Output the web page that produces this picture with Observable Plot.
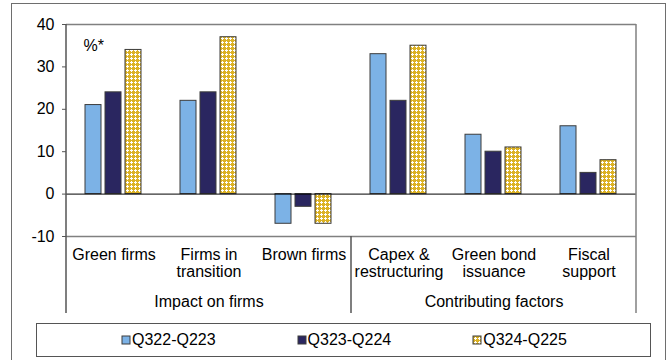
<!DOCTYPE html>
<html><head><meta charset="utf-8">
<script src="https://cdn.jsdelivr.net/npm/d3@7"></script>
<script src="https://cdn.jsdelivr.net/npm/@observablehq/plot@0.6"></script>
<style>
html,body{margin:0;padding:0;background:#fff;}
body{position:relative;width:667px;height:360px;overflow:hidden;font-family:"Liberation Sans",Arial,sans-serif;}
#outer{position:absolute;left:11px;top:3px;width:653px;height:400px;border:1px solid #6e6e6e;border-bottom:none;background:transparent;z-index:5;pointer-events:none;box-sizing:content-box;}
#chart{position:absolute;left:0;top:0;z-index:1;}
#legend{position:absolute;left:36px;top:323px;width:613px;height:32px;border:1px solid #555;display:flex;align-items:center;padding-left:0;box-sizing:content-box;z-index:2;background:#fff;}
#legend .lg-swatches, #legend .lg-swatches-wrap{margin:0 !important;padding:0 0 0 85px !important;display:flex !important;align-items:center !important;min-height:0 !important;font-family:"Liberation Sans",Arial,sans-serif !important;font-size:16px !important;color:#000 !important;flex-wrap:nowrap !important;}
#legend .lg-swatch{margin-right:82px !important;display:inline-flex !important;align-items:center !important;}
#legend .lg-swatch > svg{margin-right:2px !important;overflow:visible !important;}
#legend .lg-swatch rect{stroke:#3c3c3c;stroke-width:1px;}
</style>
</head><body>
<svg width="0" height="0" style="position:absolute;left:0;top:0">
  <defs>
    <pattern id="gold-check" width="4" height="4" patternUnits="userSpaceOnUse">
      <rect x="0" y="0" width="4" height="4" fill="#dcb224"></rect>
      <rect x="2" y="1" width="1" height="3" fill="#ffffff"></rect>
      <rect x="1" y="2" width="3" height="1" fill="#ffffff"></rect>
    </pattern>
  </defs>
</svg>
<div id="chart"></div>
<div id="legend"></div>
<div id="outer"></div>
<script>
const categories = ["Green firms", "Firms in\ntransition", "Brown firms", "Capex &\nrestructuring", "Green bond\nissuance", "Fiscal\nsupport"];
const series = ["Q322-Q223", "Q323-Q224", "Q324-Q225"];
const q322_q223 = [21, 22, -7, 33, 14, 16];
const q323_q224 = [24, 24, -3, 22, 10, 5];
const q324_q225 = [34, 37, -7, 35, 11, 8];
const groupLabels = ["Impact on firms", "Contributing factors"];
const groupCenters = ["Firms in\ntransition", "Green bond\nissuance"];
const unitLabel = "%*";
const yTicks = [-10, 0, 10, 20, 30, 40];
const colors = ["#7cb2e6", "#2a2660", "url(#gold-check)"];

const seriesValues = [q322_q223, q323_q224, q324_q225];
const rows = [];
categories.forEach((c, i) => series.forEach((s, j) => rows.push({category: c, series: s, value: seriesValues[j][i]})));
const groupRows = groupLabels.map((label, i) => ({fx: groupCenters[i], label}));
const unitRows = [{fx: categories[0], label: unitLabel}];

const FONT = '"Liberation Sans", Arial, sans-serif';
const chart = Plot.plot({
  width: 667, height: 320,
  marginLeft: 65, marginRight: 30, marginTop: 24, marginBottom: 84,
  style: {fontFamily: FONT, fontSize: "16px", color: "#000", background: "transparent", overflow: "visible"},
  fx: {domain: categories, padding: 0},
  x: {domain: series, paddingInner: 0.176, paddingOuter: 0.858, axis: null},
  y: {domain: [-10, 40]},
  color: {domain: series, range: colors},
  marks: [
    Plot.ruleY([40, -10], {stroke: "#808080", strokeWidth: 1.5}),
    Plot.axisY({ticks: yTicks, tickSize: 4, tickPadding: 8, tickFormat: d => String(d), fontSize: 16, label: null, stroke: "#555", fill: "#000"}),
    Plot.axisFx({anchor: "bottom", tickSize: 0, tickPadding: 11, fontSize: 16, label: null, lineHeight: 1.07, fill: "#000"}),
    Plot.barY(rows, {fx: "category", x: "series", y: "value", fill: "series", stroke: "#3c3c3c", strokeWidth: 1}),
    Plot.ruleY([0], {stroke: "#000", strokeWidth: 1}),
    Plot.text(groupRows, {fx: "fx", text: "label", frameAnchor: "bottom", lineAnchor: "middle", dy: 65, fontSize: 16, fill: "#000"}),
    Plot.text(unitRows, {fx: "fx", text: "label", frameAnchor: "top-left", textAnchor: "start", lineAnchor: "middle", dx: 17, dy: 21, fontSize: 16, fill: "#000"})
  ]
});
document.getElementById("chart").append(chart);

// frame lines extending below the plot area, positioned with Plot's own scales
const fx = chart.scale("fx"), ys = chart.scale("y");
const xLeft = fx.apply(categories[0]);
const xMid = fx.apply(categories[3]);
const xRight = fx.apply(categories[categories.length - 1]) + fx.bandwidth;
const yTop = ys.apply(40), yBot = ys.apply(-10), yExt = yBot + 77;
const svg = d3.select(chart);
[[xLeft, yTop, "#555"], [xMid, yBot, "#555"], [xRight, yTop, "#808080"]].forEach(([x, y1, c]) => {
  svg.append("line").attr("x1", x).attr("x2", x).attr("y1", y1).attr("y2", yExt)
    .attr("stroke", c).attr("stroke-width", 1.5);
});

const legend = Plot.legend({color: {domain: series, range: colors}, legend: "swatches", swatchSize: 8, className: "lg"});
document.getElementById("legend").append(legend);
</script>
</body></html>
